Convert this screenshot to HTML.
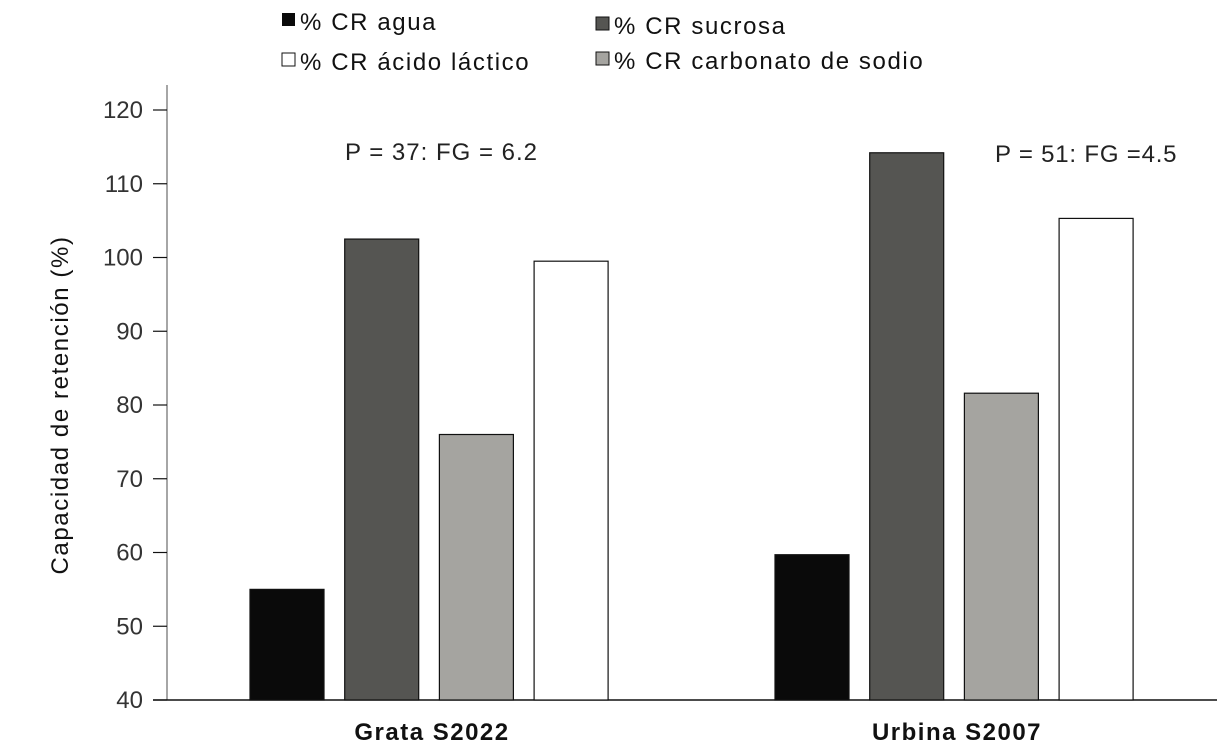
<!DOCTYPE html>
<html><head><meta charset="utf-8"><style>
body{margin:0;background:#fff}
svg{display:block;font-family:"Liberation Sans",sans-serif}
</style></head><body>
<svg id="chart" width="1231" height="750">
<g id="legend">
<g><rect x="282" y="13" width="13" height="13" fill="#0a0a0a"/><text x="300" y="30" font-size="24" letter-spacing="1.6" fill="#111">% CR agua</text></g>
<g><rect x="596" y="17" width="13" height="13" fill="#555552" stroke="#111"/><text x="614" y="34" font-size="24" letter-spacing="1.6" fill="#111">% CR sucrosa</text></g>
<g><rect x="282" y="53" width="13" height="13" fill="#fff" stroke="#111"/><text x="300" y="70" font-size="24" letter-spacing="1.6" fill="#111">% CR ácido láctico</text></g>
<g><rect x="596" y="52" width="13" height="13" fill="#a5a4a0" stroke="#111"/><text x="614" y="69" font-size="24" letter-spacing="1.6" fill="#111">% CR carbonato de sodio</text></g>
</g>
<text x="345" y="160" font-size="24" letter-spacing="1" fill="#222">P = 37: FG = 6.2</text>
<text x="995" y="162" font-size="24" letter-spacing="0.8" fill="#222">P = 51: FG =4.5</text>
<text transform="translate(68,405) rotate(-90)" text-anchor="middle" font-size="24" letter-spacing="1.6" fill="#111">Capacidad de retención (%)</text>
<g id="axes"></g>
<g id="bars"></g>
</svg>
<script>
const categories=["Grata S2022","Urbina S2007"];
const agua=[55,59.7];
const sucrosa=[102.5,114.2];
const carbonato=[76,81.6];
const lactico=[99.5,105.3];
const yTicks=[40,50,60,70,80,90,100,110,120];
const NS="http://www.w3.org/2000/svg";
function y(v){return 700-(v-40)*7.375;}
const axes=document.getElementById('axes'),bars=document.getElementById('bars');
function mk(p,tag,a){const e=document.createElementNS(NS,tag);for(const k in a)e.setAttribute(k,a[k]);p.appendChild(e);return e;}
let yl=mk(axes,'line',{x1:167,y1:85,x2:167,y2:700,stroke:'#888','stroke-width':1.5});


let xl=mk(axes,'line',{x1:153,y1:700,x2:1217,y2:700,stroke:'#111','stroke-width':1.5});


yTicks.forEach(t=>{
 mk(axes,'line',{x1:153,y1:y(t),x2:167,y2:y(t),stroke:'#111','stroke-width':1.2});
 const tx=mk(axes,'text',{x:143,y:y(t)+8,'text-anchor':'end','font-size':24,fill:'#333'});
 tx.textContent=t;
 
 
});
const series=[[agua,'#0a0a0a'],[sucrosa,'#555552'],[carbonato,'#a5a4a0'],[lactico,'#ffffff']];
const groupStart=[250,775],step=94.7,bw=74;
categories.forEach((c,i)=>{
 series.forEach((s,j)=>{
  const x=groupStart[i]+j*step;
  const r=mk(bars,'rect',{x:x,y:y(s[0][i]),width:bw,height:700-y(s[0][i]),fill:s[1],stroke:'#111','stroke-width':1.2});
  
  
 });
 const lt=mk(axes,'text',{x:groupStart[i]+182,y:740,'text-anchor':'middle','font-size':24,'font-weight':'bold','letter-spacing':1.5,fill:'#111'});
 lt.textContent=c;
 
 
});
</script>
</body></html>
